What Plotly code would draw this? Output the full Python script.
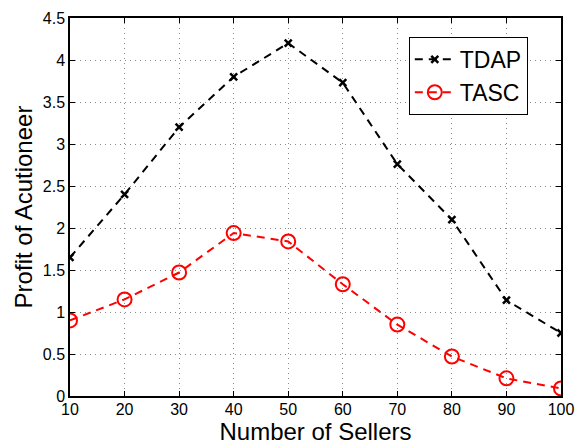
import plotly.graph_objects as go

sellers = [10, 20, 30, 40, 50, 60, 70, 80, 90, 100]
tdap = [1.65, 2.40, 3.20, 3.80, 4.20, 3.73, 2.76, 2.10, 1.14, 0.75]
tasc = [0.90, 1.15, 1.47, 1.94, 1.84, 1.33, 0.85, 0.47, 0.21, 0.09]

x_ticks = [10, 20, 30, 40, 50, 60, 70, 80, 90, 100]
y_ticks = [0, 0.5, 1, 1.5, 2, 2.5, 3, 3.5, 4, 4.5]
y_tick_text = ["0", "0.5", "1", "1.5", "2", "2.5", "3", "3.5", "4", "4.5"]

FONT = "Liberation Sans, Arial, sans-serif"

fig = go.Figure()
fig.add_trace(go.Scatter(
    x=sellers, y=tdap, name="TDAP", mode="lines+markers",
    line=dict(color="black", width=2, dash="8px,6px"),
    marker=dict(symbol="x-thin", size=7, color="black",
                line=dict(color="black", width=2.5)),
))
fig.add_trace(go.Scatter(
    x=sellers, y=tasc, name="TASC", mode="lines+markers",
    line=dict(color="red", width=2, dash="8px,6px"),
    marker=dict(symbol="circle-open", size=14, color="red",
                line=dict(color="red", width=2)),
))

axis_common = dict(
    showline=True, linecolor="black", linewidth=1.5, mirror="ticks",
    ticks="inside", ticklen=5, tickcolor="black",
    showgrid=True, gridcolor="#8c8c8c", griddash="1px,4px", gridwidth=1,
    zeroline=False, tickfont=dict(family=FONT, size=16, color="black"),
)

fig.update_xaxes(
    range=[10, 100], tickvals=x_ticks, ticklabelstandoff=-2,
    title=dict(text="Number of Sellers", font=dict(family=FONT, size=24, color="black"),
               standoff=0),
    **axis_common,
)
fig.update_yaxes(
    range=[0, 4.5], tickvals=y_ticks, ticktext=y_tick_text, ticklabelstandoff=0,
    title=dict(text="Profit of Acutioneer", font=dict(family=FONT, size=24, color="black"),
               standoff=3),
    **axis_common,
)

fig.update_layout(
    width=585, height=445,
    margin=dict(l=70, r=24, t=10, b=49),
    plot_bgcolor="white", paper_bgcolor="white",
    showlegend=True,
    legend=dict(
        x=0.69, y=0.95, xanchor="left", yanchor="top",
        bgcolor="white", bordercolor="black", borderwidth=1,
        font=dict(family=FONT, size=23, color="black"),
        itemwidth=40, tracegroupgap=0,
    ),
)

fig.write_html("out.html")
